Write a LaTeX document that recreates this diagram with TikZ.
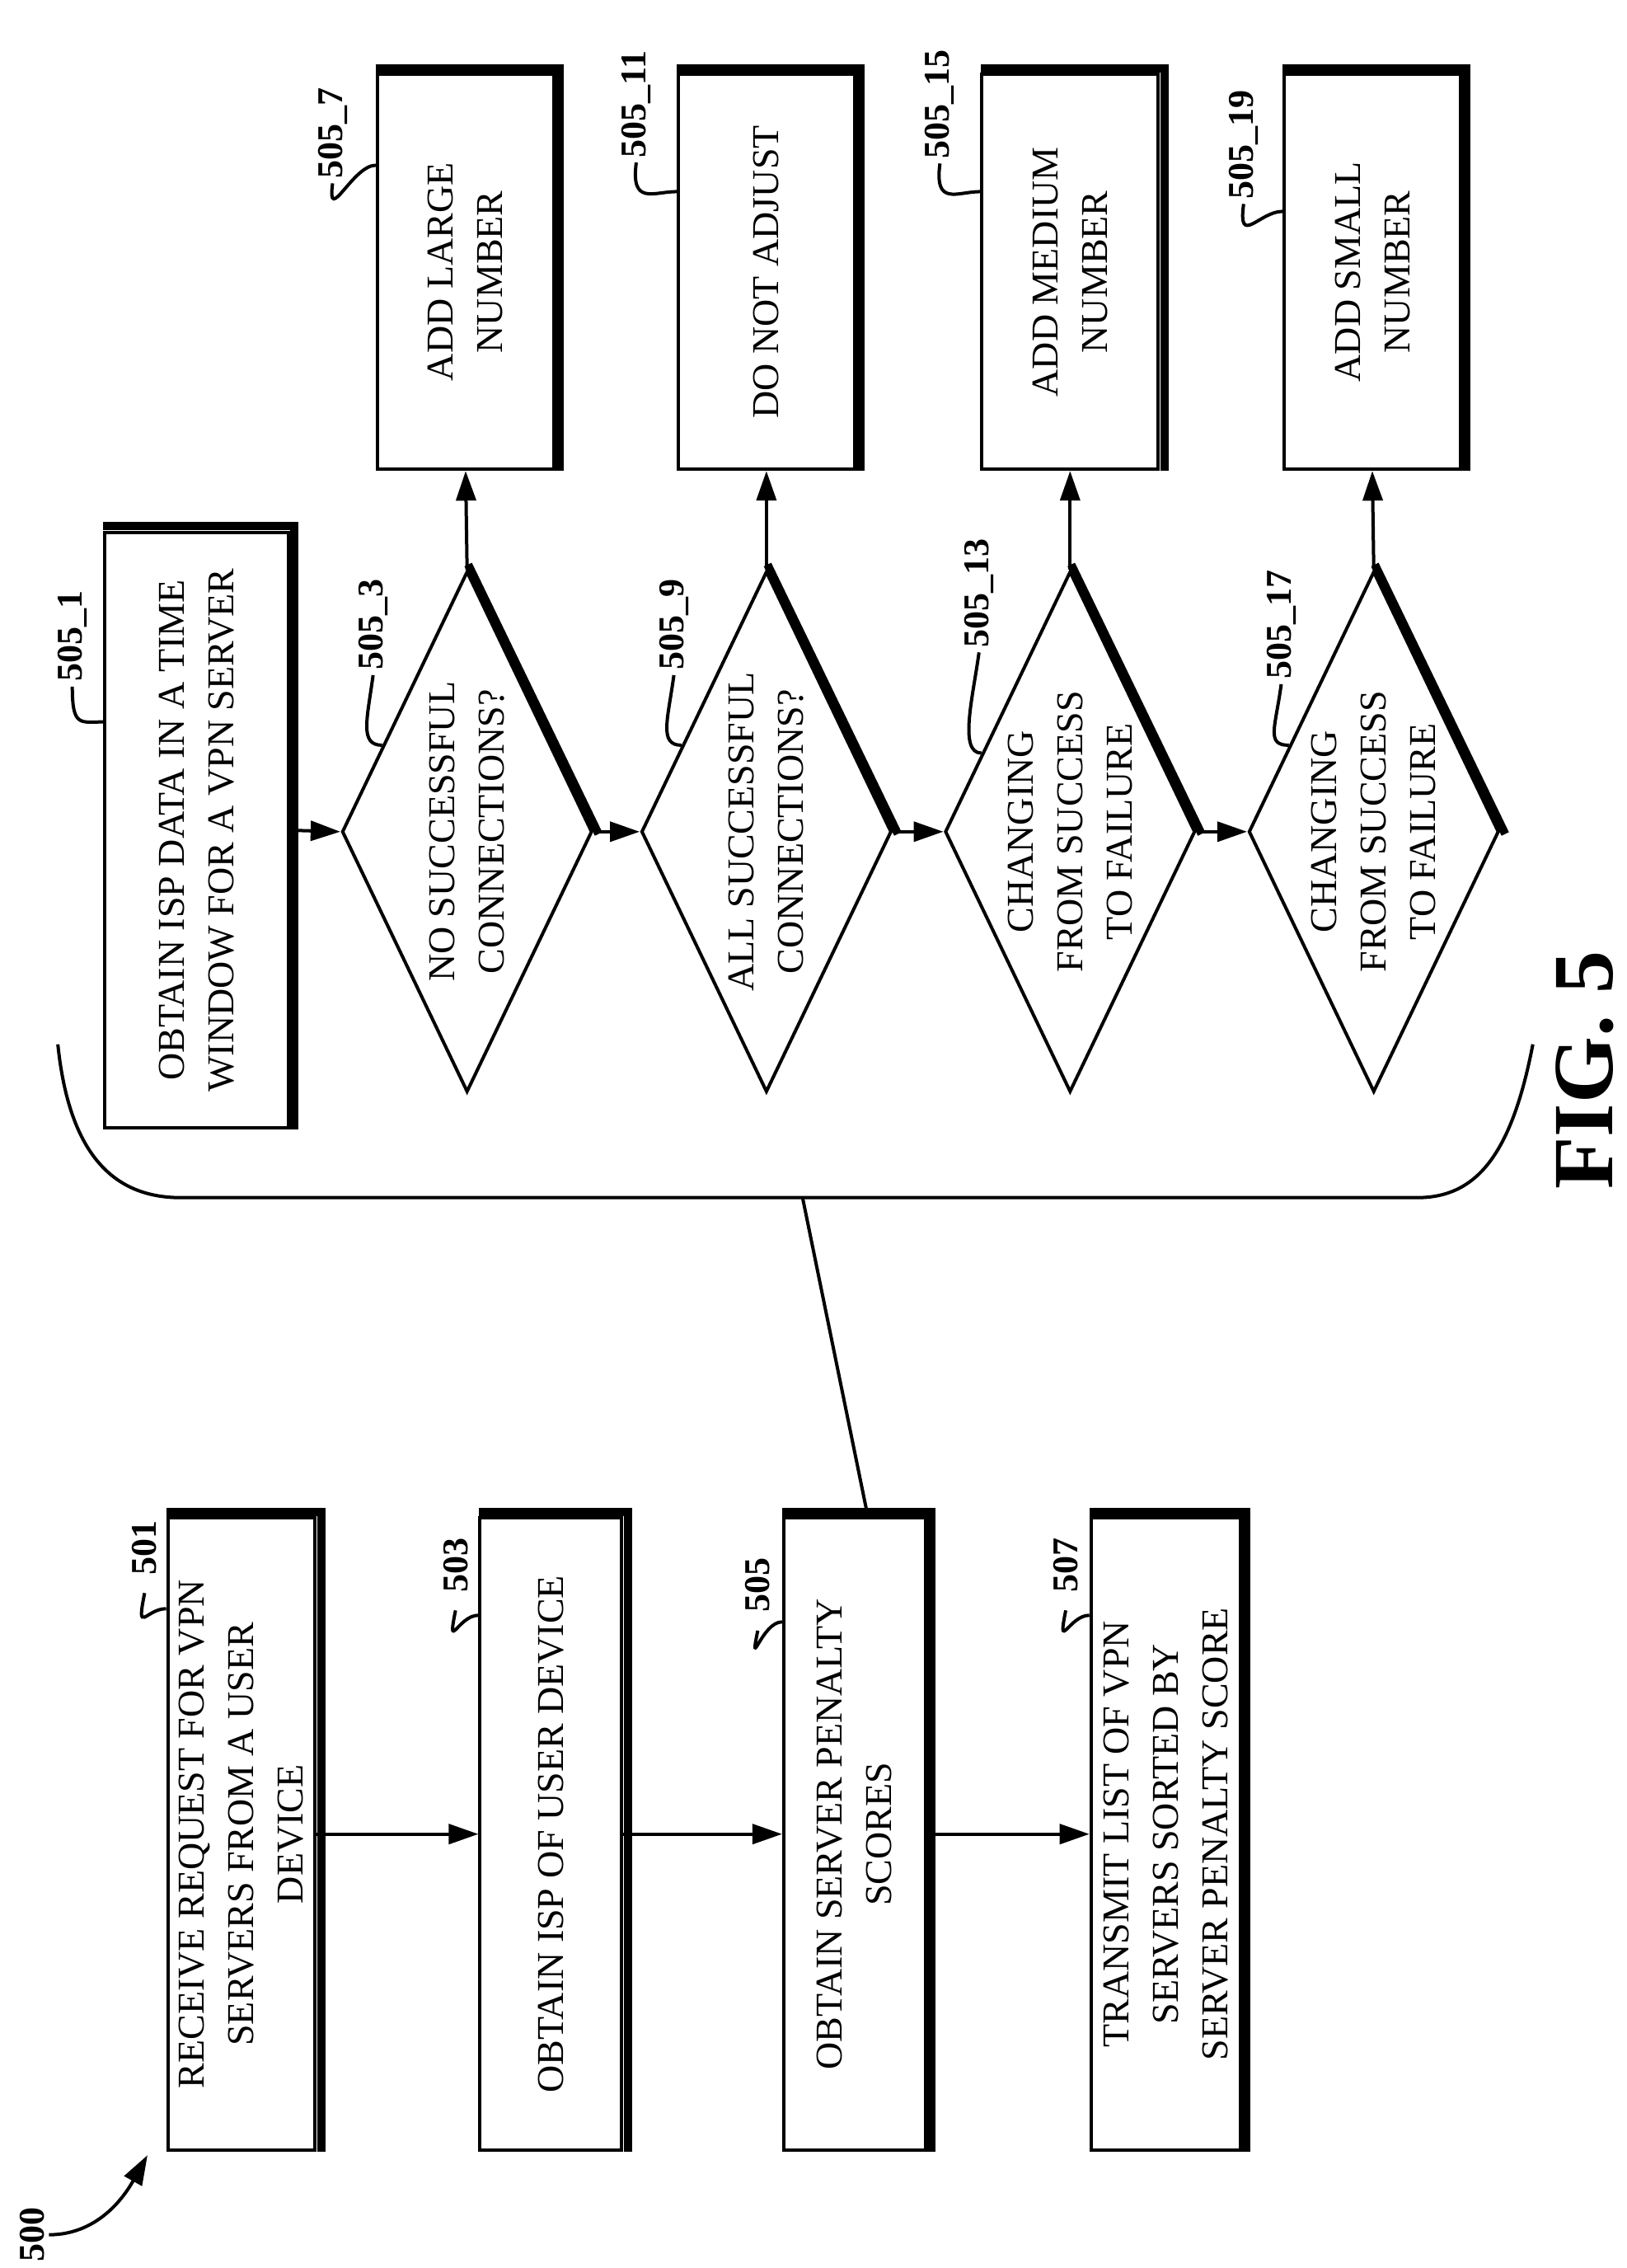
\documentclass[tikz,border=0pt]{standalone}
\usepackage{fontspec}
\setmainfont{Liberation Serif}
\usetikzlibrary{shapes.geometric,arrows.meta,calc}
\tikzset{every picture/.style={line width=1pt}}
\tikzset{
  box/.style={draw,rectangle,rotate=90,inner sep=0pt,align=center,font=\fontsize{11.5}{15}\selectfont},
  dia/.style={draw,diamond,rotate=90,inner sep=0pt,minimum width=157.9pt,minimum height=75.9pt},
  txt/.style={rotate=90,align=center,font=\fontsize{11.5}{15}\selectfont},
  lbl/.style={rotate=90,font=\bfseries\fontsize{11}{13}\selectfont,inner sep=1pt},
  flow/.style={-{Triangle[length=9pt,width=6pt]}},
  shadowline/.style={line width=2.5pt,line cap=rect}
}
\newcommand{\boxshadow}[1]{\draw[shadowline] ([shift={(3,-3)}]#1.south west) -- ([shift={(3,-3)}]#1.south east) -- ([shift={(3,-3)}]#1.north east);}
\newcommand{\diashadow}[1]{\draw[shadowline] ([shift={(2,-1)}]#1.east) -- ([shift={(2,-1)}]#1.south);}
\begin{document}
\begin{tikzpicture}[x=0.4386pt,y=-0.4386pt]
\useasboundingbox (0,0) rectangle (1125,1568);

% left column
\node[box,minimum width=191.7pt,minimum height=44.7pt] (b501) at (167,1268) {RECEIVE REQUEST FOR VPN\\SERVERS FROM A USER\\DEVICE};
\node[box,minimum width=191.7pt,minimum height=43pt] (b503) at (381,1268) {OBTAIN ISP OF USER DEVICE};
\node[box,minimum width=191.7pt,minimum height=43pt] (b505) at (591,1268) {OBTAIN SERVER PENALTY\\SCORES};
\node[box,minimum width=191.7pt,minimum height=45.2pt] (b507) at (806,1268) {TRANSMIT LIST OF VPN\\SERVERS SORTED BY\\SERVER PENALTY SCORE};
\boxshadow{b501}\boxshadow{b503}\boxshadow{b505}\boxshadow{b507}
\draw[flow] (b501.south) -- (b503.north);
\draw[flow] (b503.south) -- (b505.north);
\draw[flow] (b505.south) -- (b507.north);

% right part
\node[box,minimum width=180.7pt,minimum height=55.7pt] (b505_1) at (136,574) {OBTAIN ISP DATA IN A TIME\\WINDOW FOR A VPN SERVER};
\boxshadow{b505_1}
\foreach \n/\x/\t in {505_3/323/NO SUCCESSFUL\\CONNECTIONS?,505_9/530/ALL SUCCESSFUL\\CONNECTIONS?,505_13/740/CHANGING\\FROM SUCCESS\\TO FAILURE,505_17/950/CHANGING\\FROM SUCCESS\\TO FAILURE}{
  \node[dia] (d\n) at (\x,575) {};
  \node[txt] at (d\n.center) {\t};
  \diashadow{d\n}
}
\foreach \n/\x/\t in {505_7/322/ADD LARGE\\NUMBER,505_11/530/DO NOT ADJUST,505_15/740/ADD MEDIUM\\NUMBER,505_19/949/ADD SMALL\\NUMBER}{
  \node[box,minimum width=119.7pt,minimum height=53.5pt] (b\n) at (\x,188) {\t};
  \boxshadow{b\n}
}
\draw[flow] (b505_1.south) -- (d505_3.north);
\draw[flow] (d505_3.south) -- (d505_9.north);
\draw[flow] (d505_9.south) -- (d505_13.north);
\draw[flow] (d505_13.south) -- (d505_17.north);
\draw[flow] (d505_3.east) -- (b505_7.west);
\draw[flow] (d505_9.east) -- (b505_11.west);
\draw[flow] (d505_13.east) -- (b505_15.west);
\draw[flow] (d505_17.east) -- (b505_19.west);

% bracket
\coordinate (brL) at (40,722);
\coordinate (brR) at (1060,722);
\coordinate (brtip) at (555,828);
\draw (brL) .. controls (48,800) and (80,828) .. (125,828) -- (980,828) .. controls (1020,828) and (1045,800) .. (brR);
\draw ([xshift=4pt]b505.east) -- (brtip);

% reference labels
\node[lbl] (l501) at (100,1070) {501};
\node[lbl] (l503) at (315,1082) {503};
\node[lbl] (l505) at (524,1096) {505};
\node[lbl] (l507) at (737,1082) {507};
\foreach \n/\s in {501/-28pt,503/-30pt,505/-32pt,507/-30pt}{
  \draw ([yshift=-4pt]l\n.west) .. controls +(-6,30) and +(-14,0) .. ([yshift=\s]b\n.north east);
}

\node[lbl] (l505_1) at (50,440) {505\_1};
\draw (l505_1.west) .. controls +(0,28) and +(-16,0) .. ([yshift=-58pt]b505_1.north east);
\foreach \n/\x/\y/\t/\p in {505_3/258/432/505\_3/0.33,505_9/466/432/505\_9/0.33,505_13/677/410/505\_13/0.3,505_17/886/432/505\_17/0.33}{
  \node[lbl] (l\n) at (\x,\y) {\t};
  \draw (l\n.west) .. controls +(-4,30) and +(-16,0) .. ($(d\n.north)!\p!(d\n.east)$);
}
\foreach \n/\x/\y/\t/\s in {505_7/230/92/505\_7/-28pt,505_11/440/72/505\_11/-36pt,505_15/650/72/505\_15/-36pt,505_19/860/100/505\_19/-42pt}{
  \node[lbl] (l\n) at (\x,\y) {\t};
  \draw (l\n.west) .. controls +(-4,30) and +(-16,0) .. ([yshift=\s]b\n.north east);
}

% figure number
\node[lbl] (l500) at (22,1545) {500};
\coordinate (a500) at (102,1490);
\draw[-{Triangle[length=9pt,width=6pt]}] (l500.south) .. controls (70,1545) and (88,1515) .. (a500);
\node[rotate=90,font=\bfseries\fontsize{26}{28}\selectfont] (fig) at (1096,740) {FIG. 5};
\end{tikzpicture}
\end{document}
